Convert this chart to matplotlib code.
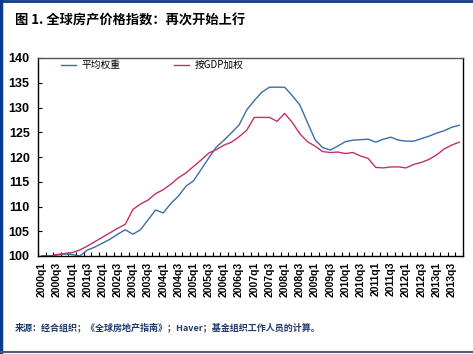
import matplotlib
matplotlib.use("Agg")
import matplotlib.pyplot as plt
from matplotlib.lines import Line2D

plt.rcParams['font.family'] = ['Noto Sans CJK SC', 'DejaVu Sans']

# quarters 2000q1 .. 2013q4
quarters = [f"{y}q{q}" for y in range(2000, 2014) for q in range(1, 5)]

avg_weight = [100.0, 100.0, 100.2, 100.4, 100.3, 100.0, 101.2, 101.8, 102.6, 103.4,
              104.4, 105.3, 104.4, 105.3, 107.3, 109.3, 108.7, 110.6, 112.1, 114.1,
              115.2, 117.5, 119.8, 122.0, 123.4, 124.9, 126.5, 129.5, 131.4, 133.1,
              134.1, 134.1, 134.1, 132.4, 130.5, 127.0, 123.5, 121.9, 121.4, 122.2,
              123.1, 123.4, 123.5, 123.6, 123.0, 123.6, 124.0, 123.4, 123.2, 123.2,
              123.7, 124.2, 124.8, 125.3, 126.0, 126.4]

gdp_weight = [100.0, 100.0, 100.3, 100.5, 100.7, 101.2, 102.0, 102.9, 103.8, 104.7,
              105.6, 106.4, 109.4, 110.5, 111.3, 112.6, 113.4, 114.5, 115.8, 116.8,
              118.1, 119.4, 120.8, 121.5, 122.4, 123.0, 124.1, 125.4, 128.0, 128.0,
              128.0, 127.2, 128.8, 127.0, 124.7, 123.1, 122.2, 121.1, 120.9, 121.0,
              120.7, 120.9, 120.2, 119.7, 117.9, 117.8, 118.0, 118.0, 117.8, 118.5,
              118.9, 119.5, 120.4, 121.6, 122.4, 123.0]

series_names = ["平均权重", "按GDP加权"]
y_ticks = [100, 105, 110, 115, 120, 125, 130, 135, 140]

fig = plt.figure(figsize=(4.73, 3.54), dpi=100)
ax = fig.add_axes([38 / 473, 1 - 256 / 354, 425 / 473, 198 / 354])

x = list(range(len(quarters)))
ax.plot(x, avg_weight, color="#3b6ea5", lw=1.0, label=series_names[0])
ax.plot(x, gdp_weight, color="#c2306b", lw=1.0, label=series_names[1])

ax.set_xlim(-0.5, len(quarters) - 0.5)
ax.set_ylim(100, 140)

# ticks at category boundaries, labels at every other quarter
ax.set_xticks([i - 0.5 for i in range(len(quarters) + 1)])
ax.set_xticklabels([])
ax.tick_params(axis="x", which="major", direction="in", length=3, width=0.8)
ax.set_xticks(x[::2], quarters[::2], minor=True)
ax.tick_params(axis="x", which="minor", length=0, pad=4, rotation=90, labelsize=7.5)
for lbl in ax.get_xticklabels(minor=True):
    lbl.set_fontweight("bold")
    lbl.set_family(["Liberation Sans"])

ax.set_yticks(y_ticks)
ax.tick_params(axis="y", direction="in", length=3, width=0.8, labelsize=9, pad=6)
for lbl in ax.get_yticklabels():
    lbl.set_fontweight("bold")
    lbl.set_family(["Liberation Sans"])

for s in ax.spines.values():
    s.set_linewidth(1.0)
    s.set_color("black")
ax.spines["top"].set_color("#555555")

ax.legend(ncol=2, frameon=False, loc="center left", bbox_to_anchor=(0.055, 0.965),
          fontsize=7, handlelength=1.5, handletextpad=0.6, columnspacing=5.5,
          borderaxespad=0, borderpad=0)

fig.text(15 / 473, 1 - 20 / 354, "图 1. 全球房产价格指数：再次开始上行",
         fontsize=9.5, fontweight="bold", va="center", ha="left")
fig.text(15 / 473, 1 - 327 / 354,
         "来源：经合组织；《全球房地产指南》；Haver；基金组织工作人员的计算。",
         fontsize=6.5, fontweight="bold", color="#1f3a6b", va="center", ha="left")

# frame around the figure
fig.add_artist(Line2D([0.003, 0.003], [0, 1], transform=fig.transFigure,
                      color="#0b3a8c", lw=2.5))
fig.add_artist(Line2D([0, 1], [0.997, 0.997], transform=fig.transFigure,
                      color="#0b3a8c", lw=2.0))
fig.add_artist(Line2D([0, 1], [1 - 352 / 354, 1 - 352 / 354], transform=fig.transFigure,
                      color="#4a5e7a", lw=1.5))

fig.savefig("out.png", dpi=100)
